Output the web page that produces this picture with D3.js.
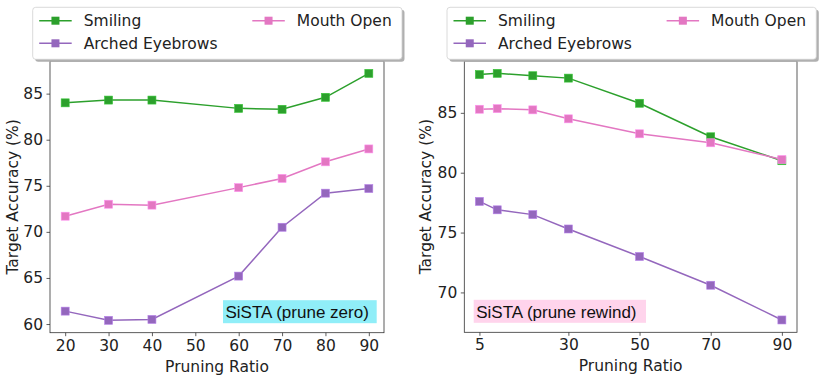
<!DOCTYPE html>
<html>
<head>
<meta charset="utf-8">
<script src="https://cdn.jsdelivr.net/npm/d3@7"></script>
<style>
  body { margin: 0; background: #fff; }
  svg { display: block; }
</style>
</head>
<body>
<svg id="chart" width="822" height="378"></svg>
<script>
// series names and colours
const seriesNames = ["Smiling", "Arched Eyebrows", "Mouth Open"];
const seriesColors = ["#2ca02c", "#9467bd", "#e377c2"];

// left panel: prune zero
const ratiosZero = [20, 30, 40, 60, 70, 80, 90];
const smilingZero = [84.0, 84.3, 84.3, 83.4, 83.3, 84.6, 87.2];
const archedZero = [61.4, 60.4, 60.5, 65.2, 70.5, 74.2, 74.7];
const mouthZero = [71.7, 73.0, 72.9, 74.8, 75.8, 77.6, 79.0];
const xTicksZero = [20, 30, 40, 50, 60, 70, 80, 90];
const yTicksZero = [60, 65, 70, 75, 80, 85];

// right panel: prune rewind
const ratiosRewind = [5, 10, 20, 30, 50, 70, 90];
const smilingRewind = [88.2, 88.3, 88.1, 87.9, 85.8, 83.0, 81.0];
const archedRewind = [77.6, 76.9, 76.5, 75.3, 73.0, 70.6, 67.7];
const mouthRewind = [85.3, 85.35, 85.25, 84.5, 83.25, 82.5, 81.1];
const xTicksRewind = [5, 30, 50, 70, 90];
const yTicksRewind = [70, 75, 80, 85];

const svg = d3.select("#chart");
const tickFont = "DejaVu Sans, sans-serif";

function pad(ext) {
  var m = (ext[1] - ext[0]) * 0.05;
  return [ext[0] - m, ext[1] + m];
}

function drawPanel(p) {
  var g = svg.append("g");
  var x = d3.scaleLinear().domain(pad(d3.extent(p.ratios))).range([p.left, p.right]);
  var allY = p.series.flat();
  var y = d3.scaleLinear().domain(pad(d3.extent(allY))).range([p.bottom, p.top]);

  // axes
  var xAxis = g.append("g").attr("transform", "translate(0," + p.bottom + ")")
    .call(d3.axisBottom(x).tickValues(p.xTicks).tickSize(3.5).tickPadding(3.5).tickSizeOuter(0));
  var yAxis = g.append("g").attr("transform", "translate(" + p.left + ",0)")
    .call(d3.axisLeft(y).tickValues(p.yTicks).tickSize(3.5).tickPadding(3.5).tickSizeOuter(0));
  [xAxis, yAxis].forEach(function(a) {
    a.select(".domain").remove();
    a.selectAll("line").attr("stroke", "#333").attr("stroke-width", 0.8);
    a.selectAll("text").attr("font-family", tickFont).attr("font-size", "15.5px").attr("fill", "#222");
  });

  // frame
  g.append("rect").attr("x", p.left).attr("y", p.top)
    .attr("width", p.right - p.left).attr("height", p.bottom - p.top)
    .attr("fill", "none").attr("stroke", "#333").attr("stroke-width", 0.8);

  // axis labels
  g.append("text").attr("x", (p.left + p.right) / 2).attr("y", p.bottom + 39)
    .attr("text-anchor", "middle").attr("font-family", tickFont).attr("font-size", "15.5px")
    .attr("fill", "#222").text("Pruning Ratio");
  g.append("text")
    .attr("transform", "translate(" + p.ylabelX + "," + ((p.top + p.bottom) / 2) + ") rotate(-90)")
    .attr("text-anchor", "middle").attr("font-family", tickFont).attr("font-size", "15.5px")
    .attr("fill", "#222").text("Target Accuracy (%)");

  // annotation
  var ann = g.append("g");
  ann.append("rect").attr("x", p.annX).attr("y", p.bottom - 32.5)
    .attr("width", p.annW).attr("height", 23).attr("fill", p.annColor);
  ann.append("text").attr("x", p.annX + 2.5).attr("y", p.bottom - 14.5)
    .attr("font-family", "Liberation Sans, Arial, sans-serif").attr("font-size", "17px")
    .attr("fill", "#111").text(p.annText);

  // lines and markers
  var line = d3.line().x(function(d, i) { return x(p.ratios[i]); }).y(function(d) { return y(d); });
  p.series.forEach(function(vals, si) {
    g.append("path").datum(vals).attr("d", line)
      .attr("fill", "none").attr("stroke", seriesColors[si]).attr("stroke-width", 1.5);
    g.selectAll(null).data(vals).enter().append("rect")
      .attr("x", function(d, i) { return x(p.ratios[i]) - 4; })
      .attr("y", function(d) { return y(d) - 4; })
      .attr("width", 8).attr("height", 8)
      .attr("fill", seriesColors[si])
      .attr("stroke", d3.color(seriesColors[si]).brighter(0.6)).attr("stroke-width", 0.6);
  });

  // legend
  var lg = g.append("g").attr("transform", "translate(" + p.legX + ",7.3)");
  lg.append("rect").attr("x", 2.5).attr("y", 2.5).attr("width", 369.3).attr("height", 52)
    .attr("rx", 3).attr("fill", "#b0b0b0");
  lg.append("rect").attr("x", 0).attr("y", 0).attr("width", 369.3).attr("height", 52)
    .attr("rx", 3).attr("fill", "#fff").attr("stroke", "#d0d0d0").attr("stroke-width", 0.8);
  var legPos = [[6.5, 13.4], [6.5, 36], [219.6, 13.4]];
  seriesNames.forEach(function(name, si) {
    var lx = legPos[si][0], ly = legPos[si][1];
    lg.append("line").attr("x1", lx).attr("x2", lx + 32.5).attr("y1", ly).attr("y2", ly)
      .attr("stroke", seriesColors[si]).attr("stroke-width", 1.5);
    lg.append("rect").attr("x", lx + 16.25 - 4).attr("y", ly - 4).attr("width", 8).attr("height", 8)
      .attr("fill", seriesColors[si]);
    lg.append("text").attr("x", lx + 44.5).attr("y", ly + 5.6)
      .attr("font-family", tickFont).attr("font-size", "15.5px").attr("fill", "#222").text(name);
  });
}

drawPanel({
  ratios: ratiosZero, series: [smilingZero, archedZero, mouthZero],
  xTicks: xTicksZero, yTicks: yTicksZero,
  left: 50, right: 384, top: 61, bottom: 332.7, ylabelX: 18,
  annX: 223, annW: 153.7, annColor: "#90eef8", annText: "SiSTA (prune zero)",
  legX: 32.7
});

drawPanel({
  ratios: ratiosRewind, series: [smilingRewind, archedRewind, mouthRewind],
  xTicks: xTicksRewind, yTicks: yTicksRewind,
  left: 464.3, right: 797, top: 61, bottom: 332.3, ylabelX: 431,
  annX: 473.7, annW: 172.3, annColor: "#ffd4ec", annText: "SiSTA (prune rewind)",
  legX: 447
});
</script>
</body>
</html>
